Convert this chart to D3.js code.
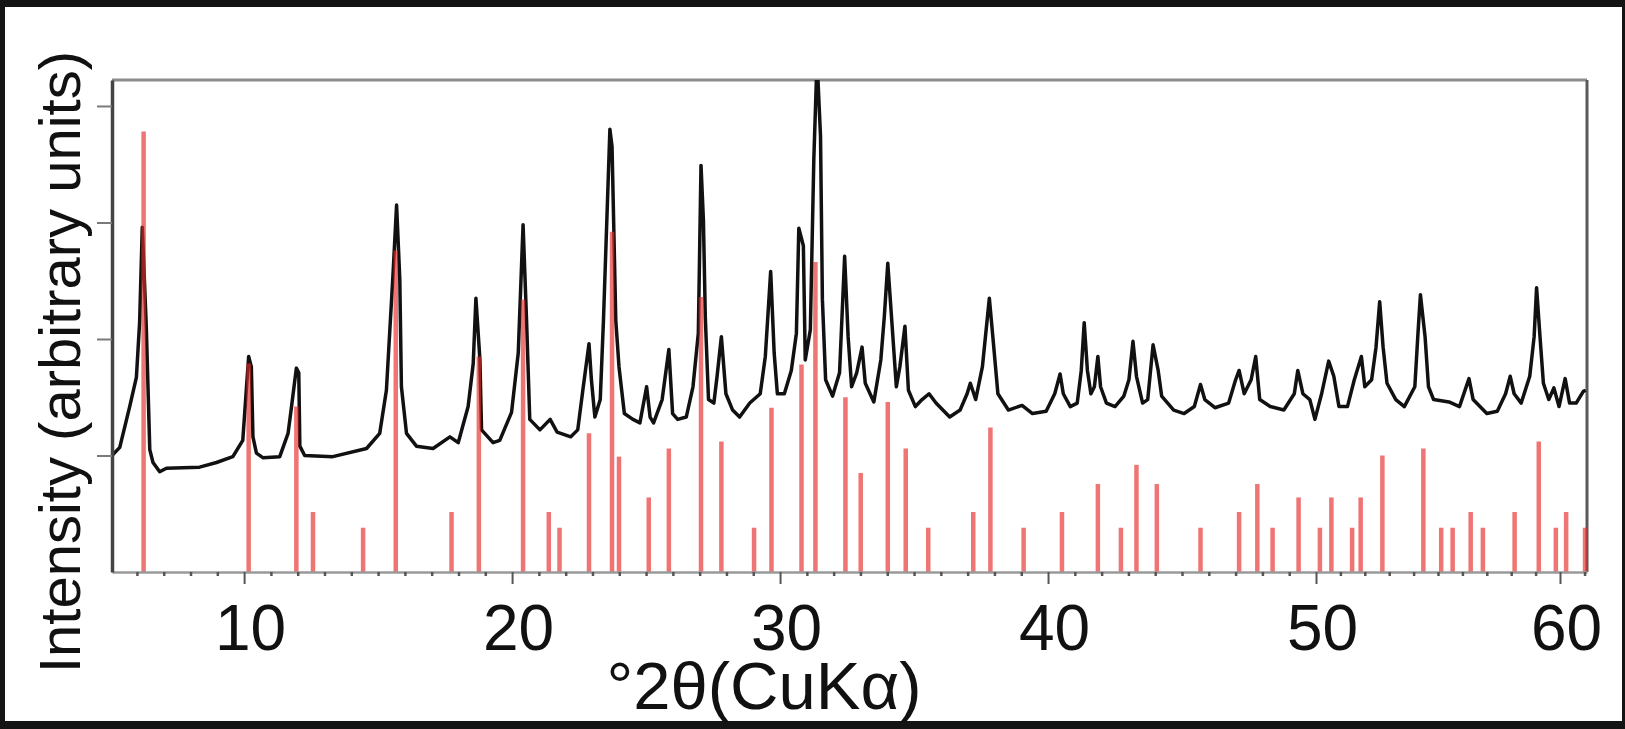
<!DOCTYPE html>
<html lang="en">

<head>
    <meta charset="UTF-8">
    <title>XRD pattern</title>
    <style>
        body { margin: 0; background: #fff; }
        svg { display: block; }
        text { font-family: "Liberation Sans", Arial, Helvetica, sans-serif; fill: #111; }
    </style>
</head>

<body>
    <svg id="chart"></svg>

    <script src="https://d3js.org/d3.v7.min.js"></script>
    <script>
        // Measured pattern (black trace), 2theta and intensity
        var patternTheta = [
            5.07, 5.36, 5.73, 5.98, 6.10, 6.20, 6.35, 6.48, 6.60, 6.85,
            7.10, 8.34, 8.97, 9.58, 9.95, 10.09, 10.17, 10.27, 10.33, 10.46,
            10.71, 11.33, 11.64, 11.77, 11.95, 12.04, 12.08, 12.26, 13.31, 14.57,
            15.06, 15.31, 15.56, 15.69, 15.81, 15.87, 16.06, 16.43, 17.05, 17.68,
            17.99, 18.36, 18.55, 18.65, 18.80, 18.86, 19.29, 19.54, 19.98, 20.23,
            20.41, 20.54, 20.66, 21.04, 21.42, 21.68, 22.19, 22.45, 22.64, 22.87,
            22.96, 23.09, 23.29, 23.41, 23.65, 23.73, 23.87, 23.99, 24.19, 24.51,
            24.77, 25.02, 25.15, 25.28, 25.60, 25.85, 25.99, 26.18, 26.50, 26.75,
            26.95, 27.05, 27.14, 27.21, 27.33, 27.53, 27.65, 27.81, 27.98, 28.23,
            28.49, 28.87, 29.26, 29.45, 29.65, 29.78, 29.90, 30.16, 30.42, 30.61,
            30.70, 30.87, 30.94, 31.13, 31.26, 31.38, 31.51, 31.58, 31.70, 31.96,
            32.22, 32.41, 32.54, 32.67, 32.86, 33.06, 33.18, 33.50, 33.76, 33.89,
            34.02, 34.15, 34.34, 34.47, 34.66, 34.79, 35.05, 35.30, 35.56, 35.82,
            36.33, 36.72, 36.98, 37.10, 37.30, 37.55, 37.81, 37.94, 38.13, 38.52,
            39.03, 39.42, 39.93, 40.25, 40.45, 40.57, 40.83, 41.09, 41.24, 41.35,
            41.47, 41.60, 41.73, 41.86, 41.96, 42.18, 42.50, 42.83, 43.02, 43.17,
            43.30, 43.53, 43.72, 43.92, 44.11, 44.24, 44.69, 45.08, 45.46, 45.69,
            45.85, 46.23, 46.74, 47.00, 47.13, 47.32, 47.58, 47.75, 47.90, 48.29,
            48.80, 49.19, 49.32, 49.51, 49.77, 49.96, 50.23, 50.52, 50.73, 50.94,
            51.29, 51.57, 51.86, 52.00, 52.28, 52.46, 52.61, 52.75, 52.91, 53.27,
            53.62, 54.05, 54.18, 54.28, 54.47, 54.61, 54.82, 55.45, 55.88, 56.27,
            56.44, 57.00, 57.43, 57.77, 57.96, 58.12, 58.41, 58.76, 58.94, 59.04,
            59.18, 59.32, 59.54, 59.75, 59.96, 60.21, 60.39, 60.66, 60.95, 61.05
        ];
        var patternIntensity = [
            1000, 1070, 1420, 1670, 2140, 2960, 2100, 1050, 940, 860,
            890, 900, 940, 990, 1130, 1590, 1850, 1760, 1160, 1020,
            980, 990, 1190, 1420, 1750, 1710, 1080, 1000, 990, 1060,
            1190, 1560, 2570, 3150, 2510, 1590, 1190, 1080, 1060, 1160,
            1110, 1420, 1790, 2350, 1820, 1220, 1110, 1130, 1370, 1880,
            2980, 2160, 1310, 1220, 1310, 1200, 1160, 1220, 1560, 1960,
            1650, 1330, 1480, 2160, 3800, 3650, 2160, 1760, 1360, 1310,
            1280, 1590, 1330, 1280, 1480, 1910, 1360, 1310, 1330, 1590,
            2050, 3490, 3020, 2190, 1480, 1450, 1680, 2020, 1530, 1390,
            1330, 1450, 1530, 1850, 2580, 1880, 1530, 1530, 1730, 2050,
            2950, 2800, 1820, 2080, 3540, 4400, 3740, 2340, 1650, 1510,
            1710, 2710, 2020, 1590, 1710, 1930, 1620, 1460, 1820, 2190,
            2650, 2220, 1590, 1760, 2110, 1560, 1420, 1480, 1530, 1450,
            1330, 1390, 1530, 1620, 1480, 1760, 2350, 2020, 1530, 1390,
            1430, 1360, 1380, 1530, 1700, 1530, 1420, 1450, 1730, 2140,
            1730, 1530, 1590, 1850, 1590, 1450, 1420, 1510, 1650, 1980,
            1680, 1450, 1480, 1950, 1730, 1510, 1390, 1360, 1420, 1610,
            1480, 1410, 1450, 1650, 1730, 1530, 1650, 1850, 1480, 1420,
            1390, 1530, 1730, 1530, 1480, 1310, 1530, 1810, 1680, 1420,
            1420, 1650, 1850, 1590, 1650, 1930, 2320, 1930, 1620, 1480,
            1420, 1590, 2050, 2380, 2020, 1590, 1480, 1460, 1420, 1660,
            1480, 1360, 1380, 1530, 1680, 1530, 1450, 1680, 2020, 2440,
            2020, 1620, 1480, 1580, 1420, 1660, 1450, 1450, 1550, 1560
        ];

        // Reference pattern (red sticks)
        var stickTheta = [
            6.25, 10.17, 11.95, 12.57, 14.44, 15.66, 17.74, 18.76, 20.41, 21.37,
            21.77, 22.87, 23.73, 23.99, 25.10, 25.85, 27.05, 27.81, 29.03, 29.68,
            30.80, 31.32, 32.44, 33.01, 34.02, 34.69, 35.53, 37.21, 37.85, 39.09,
            40.52, 41.86, 42.72, 43.30, 44.06, 45.69, 47.13, 47.81, 48.38, 49.35,
            50.16, 50.63, 51.48, 51.83, 52.72, 54.40, 55.13, 55.60, 56.34, 56.84,
            58.14, 59.13, 59.83, 60.25, 61.02
        ];
        var stickIntensity = [
            3780, 1790, 1420, 515, 380, 2760, 515, 1850, 2340, 515,
            380, 1190, 2920, 990, 640, 1060, 2360, 1120, 380, 1410,
            1780, 2660, 1500, 850, 1460, 1060, 380, 515, 1240, 380,
            515, 755, 380, 920, 755, 380, 515, 755, 380, 640,
            380, 640, 380, 640, 1000, 1060, 380, 380, 515, 380,
            515, 1120, 380, 515, 380
        ];

        // Axis ticks and labels
        var xMajorTicks = [10, 20, 30, 40, 50, 60];
        var xMinorTicks = [6, 7, 8, 9, 11, 12, 13, 14, 15, 16, 17, 18, 19, 21, 22, 23, 24, 25, 26, 27, 28, 29,
            31, 32, 33, 34, 35, 36, 37, 38, 39, 41, 42, 43, 44, 45, 46, 47, 48, 49, 51, 52, 53, 54, 55, 56, 57, 58, 59, 61];
        var yTicks = [1000, 2000, 3000, 4000];
        var xTitle = "\u00B02\u03B8(CuK\u03B1)";
        var yTitle = "Intensity (arbitrary units)";

        // Constants
        var W = 1625, H = 729;
        var margin = { top: 80, right: 38, bottom: 157, left: 112 },
            width = W - margin.left - margin.right,
            height = H - margin.top - margin.bottom;

        var svg = d3.select("#chart")
            .attr("width", W)
            .attr("height", H);

        // black frame around the picture
        svg.append("rect")
            .attr("width", W).attr("height", H)
            .attr("fill", "#141414");
        svg.append("rect")
            .attr("x", 5).attr("y", 7)
            .attr("width", W - 8).attr("height", H - 15)
            .attr("fill", "#fff");

        var chart = svg.append("g")
            .attr("transform", "translate(" + margin.left + "," + margin.top + ")");

        // the original axis is not quite uniform above 50 deg
        var x = d3.scaleLinear()
            .domain([5.07, 50, 60, 61.1])
            .range([0, 1204, 1448, width]);

        var y = d3.scaleLinear()
            .domain([0, 4223])
            .range([height, 0]);

        chart.append("clipPath").attr("id", "plot-clip")
            .append("rect")
            .attr("width", width).attr("height", height);

        // top and right frame of the plot
        chart.append("line")
            .attr("x1", 0).attr("x2", width)
            .attr("y1", 0).attr("y2", 0)
            .attr("stroke", "#8c8c8c").attr("stroke-width", 3);
        chart.append("line")
            .attr("x1", width).attr("x2", width)
            .attr("y1", 0).attr("y2", height)
            .attr("stroke", "#5a5a5a").attr("stroke-width", 3);

        // measured trace
        var pattern = patternTheta.map((t, i) => ({ t: t, v: patternIntensity[i] }));
        var line = d3.line()
            .x(d => x(d.t))
            .y(d => y(d.v));

        chart.append("path")
            .datum(pattern)
            .attr("clip-path", "url(#plot-clip)")
            .attr("fill", "none")
            .attr("stroke", "#111")
            .attr("stroke-width", 3.5)
            .attr("stroke-linejoin", "round")
            .attr("d", line);

        // reference sticks
        var sticks = stickTheta.map((t, i) => ({ t: t, v: stickIntensity[i] }));
        chart.append("g")
            .selectAll("line")
            .data(sticks)
            .enter()
            .append("line")
            .attr("x1", d => x(d.t))
            .attr("x2", d => x(d.t))
            .attr("y1", y(0))
            .attr("y2", d => y(d.v))
            .attr("stroke", "#e62a2a")
            .attr("stroke-opacity", 0.65)
            .attr("stroke-width", 4.5);

        // x axis: minor then major ticks
        var xMinor = chart.append("g")
            .attr("transform", "translate(0," + height + ")")
            .call(d3.axisBottom(x).tickValues(xMinorTicks).tickSize(4).tickSizeOuter(0).tickFormat(""));
        xMinor.select(".domain").attr("stroke", "#9a9a9a").attr("stroke-width", 2.5);
        xMinor.selectAll(".tick line").attr("stroke", "#555").attr("stroke-width", 2.5);

        var xMajor = chart.append("g")
            .attr("transform", "translate(0," + height + ")")
            .call(d3.axisBottom(x).tickValues(xMajorTicks).tickSize(12).tickPadding(21).tickSizeOuter(0));
        xMajor.select(".domain").remove();
        xMajor.selectAll(".tick line").attr("stroke", "#555").attr("stroke-width", 2);
        xMajor.selectAll(".tick text")
            .attr("dx", 6)
            .style("font-size", "64px")
            .style("fill", "#111");

        // y axis, unlabelled ticks
        var yAxis = chart.append("g")
            .call(d3.axisLeft(y).tickValues(yTicks).tickSize(15).tickSizeOuter(0).tickFormat(""));
        yAxis.select(".domain").attr("stroke", "#444").attr("stroke-width", 3.5);
        yAxis.selectAll(".tick line").attr("stroke", "#7a7a7a").attr("stroke-width", 2);

        // Axis titles
        chart.append("text")
            .attr("text-anchor", "middle")
            .attr("x", x(29.4))
            .attr("y", height + 137)
            .style("font-size", "67px")
            .text(xTitle);

        chart.append("text")
            .attr("text-anchor", "middle")
            .attr("transform", "translate(" + (-32) + "," + (height / 2 + 36) + ") rotate(-90)")
            .style("font-size", "58px")
            .text(yTitle);
    </script>
</body>

</html>
